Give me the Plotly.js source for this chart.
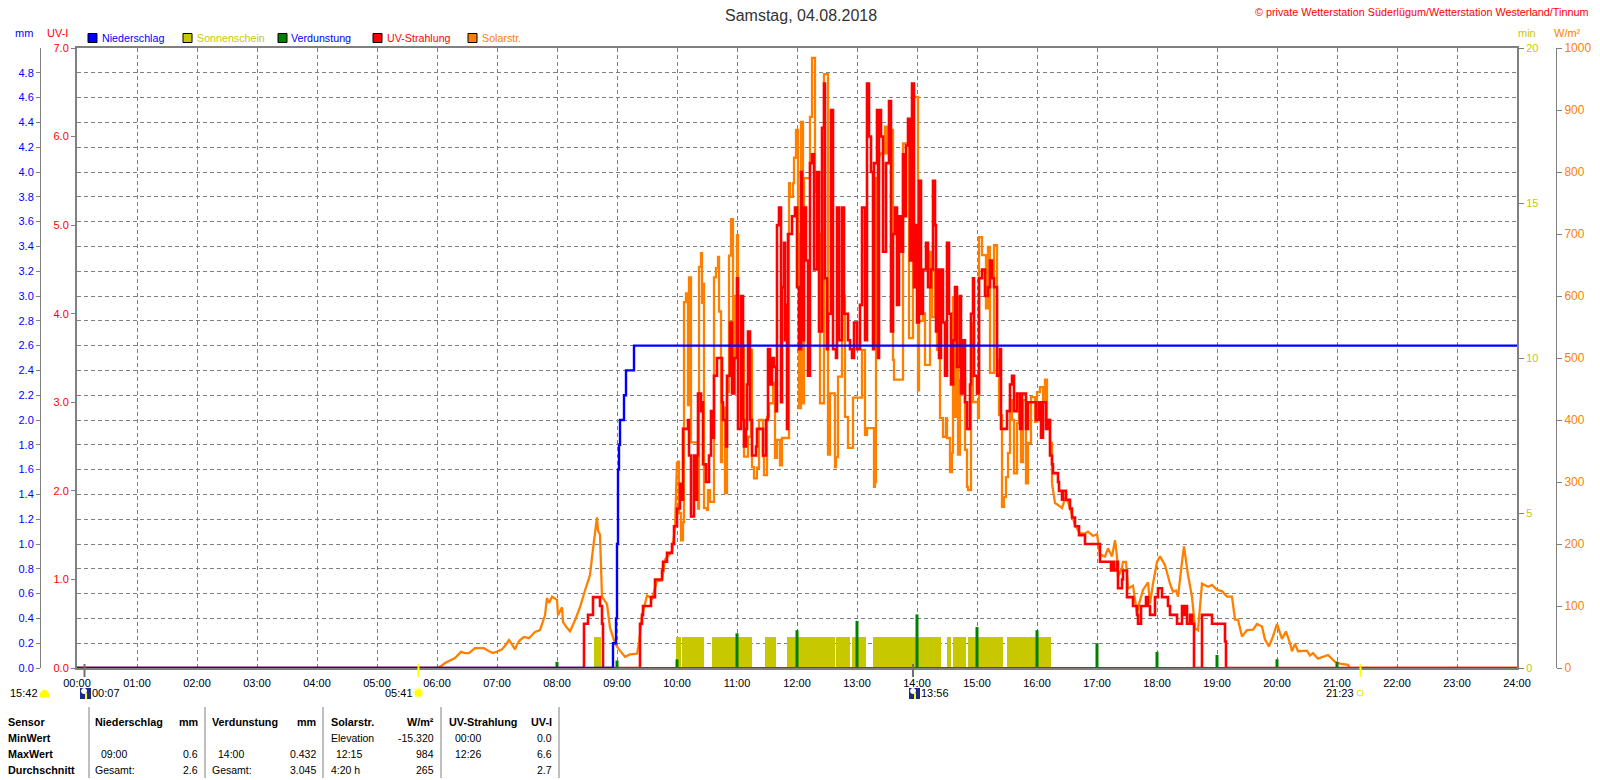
<!DOCTYPE html>
<html><head><meta charset="utf-8">
<script src="https://cdn.plot.ly/plotly-3.0.1.min.js"></script>
<style>html,body{margin:0;padding:0;background:#fff}#c{width:1600px;height:780px}</style>
</head><body><div id="c"></div>
<script>
const hourTicks=[0,60,120,180,240,300,360,420,480,540,600,660,720,780,840,900,960,1020,1080,1140,1200,1260,1320,1380,1440];
const hourLabels=["00:00","01:00","02:00","03:00","04:00","05:00","06:00","07:00","08:00","09:00","10:00","11:00","12:00","13:00","14:00","15:00","16:00","17:00","18:00","19:00","20:00","21:00","22:00","23:00","24:00"];
const mmTicks=[0,0.2,0.4,0.6,0.8,1,1.2,1.4,1.6,1.8,2,2.2,2.4,2.6,2.8,3,3.2,3.4,3.6,3.8,4,4.2,4.4,4.6,4.8];
const uvTicks=[0,1,2,3,4,5,6,7];
const minTicks=[0,5,10,15,20];
const solarTicks=[0,100,200,300,400,500,600,700,800,900,1000];

const solarTimes=[0,360,364,368,373,378,384,388,392,398,403,407,412,416,421,425,429,432,435,438,440,443,447,452,458,463,468,470,472,475,480,481,485,486,490,493,498,503,508,513,516,520,521,523,525,530,533,538,543,548,553,560,562,565,570,575,580,585,588,595,598,600,602,604,606,607,609,611,612,614,620,621,622,624,625,626,627,630,631,633,636,637,639,641,642,644,645,648,650,652,654,656,658,660,661,665,667,671,674,675,677,680,682,686,687,690,692,694,696,698,700,703,705,711,712,713,716,717,719,721,722,724,726,727,731,733,735,737,738,741,743,746,747,750,751,753,756,758,759,761,764,765,766,768,771,773,776,783,785,788,790,796,797,798,799,802,803,808,810,815,816,817,825,826,830,832,833,836,840,841,842,846,848,852,853,855,858,860,863,866,869,870,873,875,876,878,880,881,883,885,888,890,891,893,894,896,897,901,902,905,907,909,911,913,916,917,919,920,922,925,927,929,931,933,935,937,940,942,944,946,949,951,954,958,960,963,966,968,970,973,975,978,981,985,988,991,995,998,1003,1008,1011,1016,1020,1023,1028,1031,1035,1038,1040,1041,1045,1046,1049,1051,1056,1060,1062,1066,1071,1073,1076,1080,1083,1088,1093,1096,1099,1101,1105,1107,1111,1115,1118,1121,1125,1131,1135,1140,1145,1150,1155,1158,1161,1165,1170,1176,1180,1185,1188,1192,1196,1200,1205,1209,1213,1215,1218,1221,1230,1233,1236,1241,1251,1258,1263,1271,1273,1440];
const solarValues=[0,0,3,8,12,16,26,24,24,32,32,32,27,24,27,30,38,45,38,30,38,45,50,48,58,61,85,113,105,115,110,85,98,74,65,59,77,98,125,150,192,243,222,215,115,103,65,39,28,18,22,23,40,84,117,112,140,141,175,188,225,333,250,206,235,590,604,424,630,364,364,257,647,669,589,620,258,255,287,268,268,630,645,663,575,332,420,282,445,665,724,443,600,698,518,520,341,373,513,324,306,323,400,341,311,405,427,427,460,339,368,327,371,371,782,760,782,823,868,700,419,881,427,790,790,889,984,984,768,700,427,427,958,958,344,443,443,324,340,470,470,682,600,405,355,355,436,436,513,376,387,387,292,300,790,827,830,873,830,868,497,465,465,846,846,532,532,921,921,448,560,572,489,489,671,566,642,513,403,373,403,371,316,347,598,405,598,344,465,465,352,292,287,287,556,429,429,403,695,666,666,580,679,476,476,682,682,497,408,260,276,308,347,432,400,314,395,437,332,432,298,363,437,397,445,453,432,465,400,363,298,266,263,258,273,268,247,230,217,217,220,213,216,183,180,193,180,206,180,147,161,171,171,128,133,88,103,126,138,104,136,171,180,166,136,123,125,115,171,196,150,115,64,61,136,131,134,126,124,115,115,78,78,51,61,62,71,67,46,35,51,71,47,59,40,27,39,27,28,20,24,15,21,10,7,5,0,0];

const uvTimes=[0,507,511,516,523,525,526,563,565,566,574,578,585,586,590,595,597,600,603,605,606,611,612,614,617,619,620,621,624,625,626,629,631,632,634,636,637,640,644,645,646,649,650,653,655,657,660,661,664,666,667,669,670,671,673,675,679,680,684,686,689,691,693,695,697,699,700,702,704,705,707,708,709,710,711,715,718,720,722,724,725,727,729,731,733,735,737,740,742,745,747,748,750,751,754,756,759,760,762,765,767,771,773,775,777,780,783,785,788,790,792,794,796,797,800,801,802,804,806,809,812,814,816,818,820,822,824,826,828,829,831,833,835,837,839,840,842,844,846,849,851,854,856,858,859,860,862,864,866,868,870,872,874,876,878,880,883,884,886,888,890,893,894,896,897,900,902,905,908,911,913,915,917,920,923,924,928,930,933,935,937,940,943,945,949,951,958,959,962,964,966,969,971,973,975,976,981,982,985,986,989,993,995,998,1002,1008,1023,1034,1036,1037,1040,1041,1045,1046,1050,1056,1060,1061,1064,1069,1071,1073,1076,1078,1081,1085,1091,1093,1100,1103,1105,1106,1108,1110,1113,1115,1117,1125,1135,1148,1149,1440];
const uvValues=[0,.5,.6,.8,.7,.5,0,.5,.6,.7,.8,1,1.1,1.2,1.3,1.4,1.6,1.8,2.08,1.9,2.7,2.8,2.4,1.71,2.4,1.9,2.4,3.1,2.9,3,2.3,2.1,2.1,2.4,2.9,2.6,3.3,3.5,3.5,3,2.8,2.5,3.3,3.9,3.1,3.5,4.4,2.7,4.2,2.8,2.5,2.7,3.2,3.8,2.8,2.4,2.5,2.7,2.7,2.4,2.8,3.6,3.2,3.5,3.4,2.9,5,5.2,3,4.3,4.8,3.7,4.1,2.7,4.9,5.1,5.2,4.3,3.6,5.6,3.7,5.2,4.6,3.3,5.7,5.8,4.5,5.6,3.8,6.1,6.6,4.4,3.6,4,6.3,3.6,3.5,5.2,3.7,5.2,4,3.7,3.6,3.5,3.9,3.6,4.1,5.2,3.7,6.6,6,5.6,3.6,5.7,6.3,3.5,6.3,6,4.7,5.7,6.4,3.8,4.9,5.2,4.1,5.1,4.7,5.8,5.1,5.9,6.2,4.6,6.6,4.3,5,3.9,5.5,4,4.5,4.8,4.3,4.5,5.5,5,3.8,4.5,3.5,4.5,3.9,3.3,4.8,4,3.2,3.7,4.3,3.4,4.2,3.1,3.7,3,2.7,3.2,4,4.4,3.3,3.1,4.4,4.5,4.2,4.3,4.6,4.4,4.3,3.3,3.6,2.7,2.7,2.9,3.2,3.3,2.9,3.1,2.7,3.1,2.7,3,3,2.8,3,2.6,3,2.7,2.8,2.4,2.3,2.2,2.1,2,1.9,2,1.9,1.8,1.7,1.6,1.5,1.4,1.2,1.1,1.2,1.1,1.2,.9,1,1.1,.8,.7,.6,.5,.7,.8,.7,.6,.6,.8,.9,.8,.7,.6,.5,.5,.7,.6,.7,.5,.6,.5,0,.6,.5,.3,0,0];

const rainTimes=[0,536,539,540,541,542,543,547,549,557,1440];
const rainValues=[0,.2,.4,1,1.6,1.8,2,2.2,2.4,2.6,2.6];

const evapTimes=[0,60,120,180,240,300,360,420,480,540,600,660,720,780,840,900,960,1020,1080,1140,1200,1260,1320,1380];
const evapValues=[.01,.01,.01,.01,.01,.01,.01,.01,.05,.06,.07,.28,.305,.38,.432,.33,.305,.2,.13,.105,.07,.05,.01,.01];
const baselineTimes=[0,1440];
const baselineValues=[0,0];

const sunStart=[517,599,605,635,688,710,759,775,796,870,876,891,930];
const sunMinutes=[7,5,22,40,11,48,14,14,68,4,13,35,44];
const sunValues=[1,1,1,1,1,1,1,1,1,1,1,1,1];

const legendNames=["Niederschlag","Sonnenschein","Verdunstung","UV-Strahlung","Solarstr."];
const tableRows=["Sensor","MinWert","MaxWert","Durchschnitt"];
const rainCol=[["Niederschlag","mm"],["",""],["09:00","0.6"],["Gesamt:","2.6"]];
const evapCol=[["Verdunstung","mm"],["",""],["14:00","0.432"],["Gesamt:","3.045"]];
const solarCol=[["Solarstr.","W/m²"],["Elevation","-15.320"],["12:15","984"],["4:20 h","265"]];
const uvCol=[["UV-Strahlung","UV-I"],["00:00","0.0"],["12:26","6.6"],["","2.7"]];
const astroLabels=["15:42","00:07","05:41","13:56","21:23"];

const BLUE='#0000ff',RED='#ff0000',ORANGE='#ff8000',OLIVE='#c8c800',GREEN='#008000',GRAY='#808080';
const F='"Liberation Sans",Arial,sans-serif';
const px=x=>x/1600, py=y=>1-y/780;
const ann=[],shp=[];
function T(x,y,text,color,size,anchor){ann.push({xref:'paper',yref:'paper',x:px(x),y:py(y),text:text,showarrow:false,xanchor:anchor||'left',yanchor:'middle',align:anchor||'left',font:{family:F,size:size||11,color:color||'#000'},borderpad:0,borderwidth:0});}
function R(x0,y0,x1,y1,fill,line){shp.push({type:'rect',xref:'paper',yref:'paper',x0:px(x0),x1:px(x1),y0:py(y0),y1:py(y1),fillcolor:fill,line:{color:line||fill,width:line?1:0}});}
function C(x,y,r,fill,line){shp.push({type:'circle',xref:'paper',yref:'paper',x0:px(x-r),x1:px(x+r),y0:py(y-r),y1:py(y+r),fillcolor:fill,line:{color:line||fill,width:1}});}

T(801,15,'Samstag, 04.08.2018','#333',16,'center');
T(1588,12,'© private Wetterstation Süderlügum/Wetterstation Westerland/Tinnum',RED,10.8,'right');
T(15,33,'mm',BLUE,11); T(47,33,'UV-I',RED,11); T(1518,33,'min',OLIVE,11); T(1554,33,'W/m²',ORANGE,11);

const legSq=[88,183,278,373,468],legTx=[102,197,291,387,482];
const legFill=[BLUE,OLIVE,GREEN,RED,ORANGE],legTxt=[BLUE,OLIVE,BLUE,RED,ORANGE];
legendNames.forEach((n,i)=>{R(legSq[i],33.5,legSq[i]+9,42.5,legFill[i],'#000');T(legTx[i],38,n,legTxt[i],10.7);});

// sunrise / sunset markers
R(83.5,664,85.5,677,'#707070');R(912,664,914,677,'#707070');
R(417.5,664,419.5,677,'#ffff00');R(1359.5,664,1361.5,677,'#ffff00');
T(10,693,astroLabels[0],'#000',11);
shp.push({type:'path',xref:'paper',yref:'paper',path:`M ${px(40)} ${py(697)} C ${px(40)} ${py(688)} ${px(49)} ${py(688)} ${px(49)} ${py(697)} Z`,fillcolor:'#ffff00',line:{color:'#ffff00',width:1}});
R(80,688,91,699,'#1a2a8a');C(84,691,2.5,'#ffffff');R(85,693,87,699,'#ffff00');
T(92,693,astroLabels[1],'#000',11);
T(385,693,astroLabels[2],'#000',11);C(418.5,693,5,'#ffffb0');C(418.5,693,3.5,'#ffff00');
R(909,688,920,699,'#1a2a8a');C(913,691,2.5,'#ffffff');R(914,693,916,699,'#ffff00');
T(921,693,astroLabels[3],'#000',11);
T(1326,693,astroLabels[4],'#000',11);C(1360,693,3,'#ffffff','#e8e800');

// summary table
[89,205,323,441,559].forEach(x=>R(x-.5,707,x+.5,778,GRAY));
const rowY=[722,738,754,770];
const colL=[95,212,331,449],colR=[198,316,434,552];
const subL=[[95,101,101,95],[212,218,218,212],[331,331,336,331],[449,455,455,455]];
tableRows.forEach((n,i)=>T(8,rowY[i],'<b>'+n+'</b>','#000',10.8));
[rainCol,evapCol,solarCol,uvCol].forEach((col,c)=>{
  col.forEach((row,i)=>{
    const b=i===0;
    if(row[0])T(b?colL[c]:subL[c][i],rowY[i],b?'<b>'+row[0]+'</b>':row[0],'#000',b?10.8:10.5);
    if(row[1])T(colR[c],rowY[i],b?'<b>'+row[1]+'</b>':row[1],'#000',b?10.8:10.5,'right');
  });
});

// the noisy part of the solar series is stepped, the calm morning and evening parts are smooth
const noisyFrom=solarTimes.indexOf(600),noisyTo=solarTimes.indexOf(975);
const solarPart=(a,b,shape)=>({type:'scatter',mode:'lines',name:legendNames[4],x:solarTimes.slice(a,b+1),y:solarValues.slice(a,b+1),yaxis:'y2',line:{color:ORANGE,width:2.3,shape:shape},hoverinfo:'skip'});
const traces=[
 {type:'bar',name:legendNames[1],x:sunStart,y:sunValues,width:sunMinutes,offset:0,yaxis:'y',xaxis:'x',marker:{color:OLIVE,line:{width:0}},hoverinfo:'skip'},
 solarPart(0,noisyFrom,'linear'),
 solarPart(noisyFrom,noisyTo,'hv'),
 solarPart(noisyTo,solarTimes.length-1,'linear'),
 {type:'scatter',mode:'lines',name:legendNames[3],x:uvTimes,y:uvValues,yaxis:'y3',line:{color:RED,width:2.6,shape:'hv'},hoverinfo:'skip'},
 {type:'bar',name:legendNames[2],x:evapTimes,y:evapValues,width:3,yaxis:'y4',marker:{color:GREEN,line:{width:0}},hoverinfo:'skip'},
 {type:'scatter',mode:'lines',name:legendNames[2]+' 0',x:baselineTimes,y:baselineValues,yaxis:'y4',line:{color:GREEN,width:2},hoverinfo:'skip',cliponaxis:false},
 {type:'scatter',mode:'lines',name:legendNames[0],x:rainTimes,y:rainValues,yaxis:'y4',line:{color:BLUE,width:2.4,shape:'hv'},hoverinfo:'skip',cliponaxis:false}
];
const dom=[py(668),py(48)];
const layout={
 width:1600,height:780,margin:{l:0,r:0,t:0,b:0},paper_bgcolor:'#fff',plot_bgcolor:'#fff',showlegend:false,barmode:'overlay',
 font:{family:F,size:11},
 xaxis:{domain:[px(77),px(1517)],range:[0,1440],tickmode:'array',tickvals:hourTicks,ticktext:hourLabels,ticks:'outside',ticklen:4,tickcolor:'rgba(0,0,0,0)',tickangle:0,showgrid:true,gridcolor:GRAY,griddash:'4px,3px',gridwidth:1,showline:true,linecolor:GRAY,linewidth:2,mirror:true,zeroline:false,tickfont:{family:F,size:11,color:'#000'},fixedrange:true,anchor:'y'},
 yaxis:{domain:dom,range:[0,20],side:'right',anchor:'x',tickmode:'array',tickvals:minTicks,ticks:'outside',ticklen:5,tickcolor:GRAY,showgrid:false,zeroline:false,showline:true,linecolor:GRAY,linewidth:2,tickfont:{family:F,size:11,color:OLIVE},fixedrange:true},
 yaxis2:{domain:dom,overlaying:'y',anchor:'free',position:px(1556),side:'right',range:[0,1000],tickmode:'array',tickvals:solarTicks,ticks:'outside',ticklen:5,tickcolor:GRAY,showgrid:false,zeroline:false,showline:true,linecolor:GRAY,linewidth:1,tickfont:{family:F,size:12,color:ORANGE},fixedrange:true},
 yaxis3:{domain:dom,overlaying:'y',anchor:'x',side:'left',range:[0,7],tickmode:'array',tickvals:uvTicks,tickformat:'.1f',ticks:'outside',ticklen:4,tickcolor:GRAY,showgrid:false,zeroline:false,showline:true,linecolor:GRAY,linewidth:2,tickfont:{family:F,size:11,color:RED},fixedrange:true},
 yaxis4:{domain:dom,overlaying:'y',anchor:'free',position:px(40),side:'left',range:[0,5],tickmode:'array',tickvals:mmTicks,tickformat:'.1f',ticks:'outside',ticklen:4,tickcolor:GRAY,showgrid:true,gridcolor:GRAY,griddash:'4px,3px',gridwidth:1,zeroline:false,showline:true,linecolor:GRAY,linewidth:1,tickfont:{family:F,size:11,color:BLUE},fixedrange:true},
 annotations:ann,shapes:shp
};
Plotly.newPlot('c',traces,layout,{displayModeBar:false,staticPlot:true});
</script></body></html>
